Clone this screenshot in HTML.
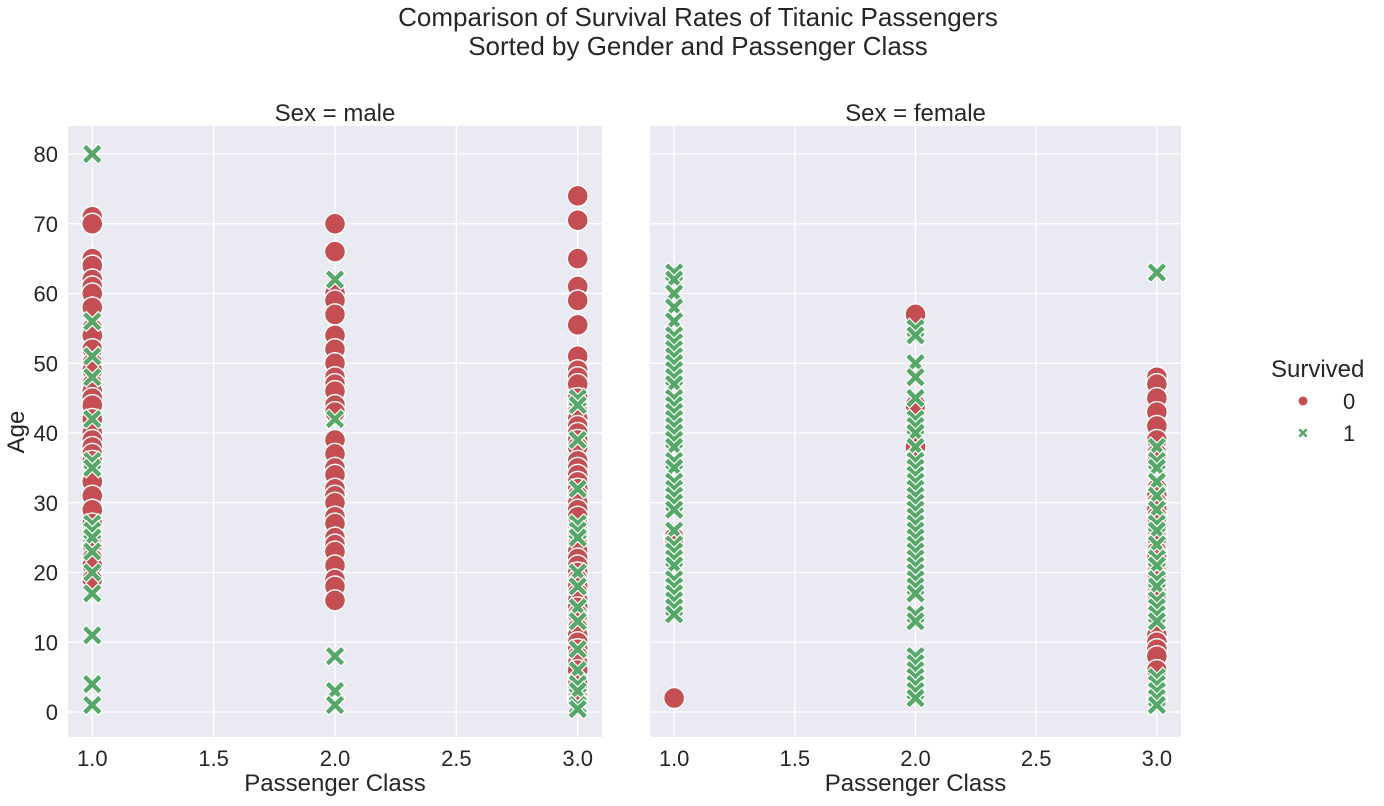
<!DOCTYPE html>
<html><head><meta charset="utf-8">
<style>
body{margin:0;background:#fff;}
svg text{font-family:"Liberation Sans","DejaVu Sans",sans-serif;fill:#262626;}
</style></head>
<body>
<svg id="chart" width="1384" height="801" xmlns="http://www.w3.org/2000/svg">
<text x="698" y="26" font-size="26" text-anchor="middle">Comparison of Survival Rates of Titanic Passengers</text>
<text x="698" y="55" font-size="26" text-anchor="middle">Sorted by Gender and Passenger Class</text>
<g id="panels"></g>
<g>
<text x="1271" y="377" font-size="24">Survived</text>
<circle cx="1303" cy="401" r="5" fill="#c44e52" stroke="#fff" stroke-width="1"/>
<text x="1343" y="409" font-size="22">0</text>
<path transform="translate(1303,433) scale(0.45)" d="M-10,-6 L-6,-10 L0,-4 L6,-10 L10,-6 L4,0 L10,6 L6,10 L0,4 L-6,10 L-10,6 L-4,0 Z" fill="#55a868"/>
<text x="1343" y="441" font-size="22">1</text>
</g>
</svg>
<script>
const yTicks = [0,10,20,30,40,50,60,70,80];
const xTicks = [1.0,1.5,2.0,2.5,3.0];
const panelTitles = ["Sex = male","Sex = female"];
const maleC1Died = [71,70,65,64,62,61,60,58,55,54,52,50,49,47,46,45,44,42,40,39,38,37,36,33,31,29,27,24,22,21,19];
const maleC1Surv = [80,56,51,48,42,36,35,27,26,25,23,20,17,11,4,1];
const maleC2Died = [70,66,60,59,57,54,52,50,48,47,46,44,43,39,37,35,34,32,31,30,28,27,25,24,23,21,19,18,16];
const maleC2Surv = [62,42,8,3,1];
const maleC3Died = [74,70.5,65,61,59,55.5,51,49,48,47,45,44,43,42,41,40,39,38,36,35,34,33,32,31,30,29,28,26,25,24,23,22,21,20,19,18,17,16,15,14,12,11,10,9,8,7,6,4,3,2];
const maleC3Surv = [45,44,39,32,27,26,25,20,18,15,13,9,6,4,3,1,0.42];
const femC1Died = [25,2];
const femC1Surv = [63,62,60,58,56,54,53,52,51,50,49,48,47,45,44,43,42,41,40,39,38,36,35,33,32,31,30,29,26,24,23,22,21,19,18,17,16,15,14];
const femC2Died = [57,44,38];
const femC2Surv = [55,54,50,48,45,42,41,40,38,36,35,34,33,32,31,30,29,28,27,26,25,24,23,22,21,20,19,18,17,14,13,8,7,6,5,4,3,2];
const femC3Died = [48,47,45,43,41,39,37,32,31,30,29,28,26,25,23,22,21,20,18,17,11,10,9,8,6,2];
const femC3Surv = [63,38,36,35,33,31,29,27,26,24,22,21,19,18,16,15,14,13,5,4,3,2,1];

const NS="http://www.w3.org/2000/svg";
const g=document.getElementById('panels');
function el(t,a){const e=document.createElementNS(NS,t);for(const k in a)e.setAttribute(k,a[k]);return e;}
const panels=[
 {x0:68,x1:602,name:'male',sets:[[1,maleC1Died,maleC1Surv],[2,maleC2Died,maleC2Surv],[3,maleC3Died,maleC3Surv]]},
 {x0:650,x1:1181,name:'female',sets:[[1,femC1Died,femC1Surv],[2,femC2Died,femC2Surv],[3,femC3Died,femC3Surv]]}
];
const yTop=126,yBot=737;
function ys(v){return 712-v*6.975;}
panels.forEach((p,pi)=>{
 const w=p.x1-p.x0;
 const xs=v=>p.x0+(v-0.9)/2.2*w;
 const bg=el('rect',{x:p.x0,y:yTop,width:w,height:yBot-yTop,fill:'#eaeaf2'});
 
 
 g.appendChild(bg);
 yTicks.forEach(t=>{
  const l=el('line',{x1:p.x0,x2:p.x1,y1:ys(t),y2:ys(t),stroke:'#fff','stroke-width':1.3});
  
  
  g.appendChild(l);
  if(pi===0){
   const tx=el('text',{x:p.x0-10,y:ys(t)+8,'font-size':22,'text-anchor':'end'});
   tx.textContent=t;
   
   
   g.appendChild(tx);
  }
 });
 xTicks.forEach(t=>{
  const l=el('line',{x1:xs(t),x2:xs(t),y1:yTop,y2:yBot,stroke:'#fff','stroke-width':1.3});
  
  
  g.appendChild(l);
  const tx=el('text',{x:xs(t),y:yBot+29,'font-size':22,'text-anchor':'middle'});
  tx.textContent=t.toFixed(1);
  
  
  g.appendChild(tx);
 });
 const tt=el('text',{x:(p.x0+p.x1)/2,y:121,'font-size':24,'text-anchor':'middle'});
 tt.textContent=panelTitles[pi];
 
 
 g.appendChild(tt);
 const xl=el('text',{x:(p.x0+p.x1)/2,y:791,'font-size':24,'text-anchor':'middle'});
 xl.textContent='Passenger Class';
 
 
 g.appendChild(xl);
 p.sets.forEach(([cls,died,surv])=>{
  died.forEach(a=>{
   const c=el('circle',{cx:xs(cls),cy:ys(a),r:10.5,fill:'#c44e52',stroke:'#fff','stroke-width':1.5});
   
   
   g.appendChild(c);
  });
  surv.forEach(a=>{
   const c=el('path',{transform:`translate(${xs(cls)},${ys(a)})`,d:'M-10,-6 L-6,-10 L0,-4 L6,-10 L10,-6 L4,0 L10,6 L6,10 L0,4 L-6,10 L-10,6 L-4,0 Z',fill:'#55a868',stroke:'#fff','stroke-width':1.2});
   
   
   g.appendChild(c);
  });
 });
});
const yl=el('text',{x:0,y:0,'font-size':24,'text-anchor':'middle',transform:'translate(24,432) rotate(-90)'});
yl.textContent='Age';


g.appendChild(yl);
</script>
</body></html>
